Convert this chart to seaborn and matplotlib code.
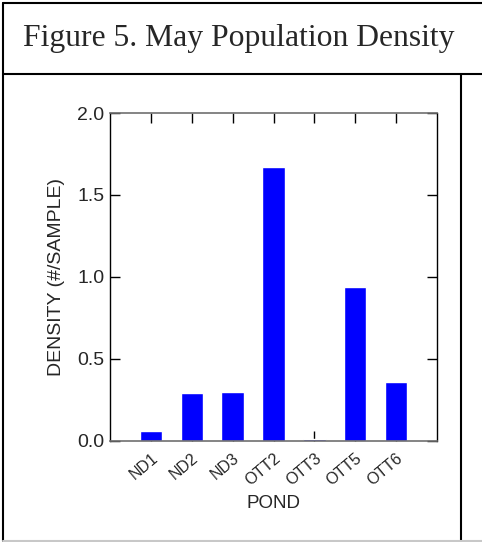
import matplotlib
matplotlib.use("Agg")
import matplotlib.pyplot as plt
from matplotlib.lines import Line2D
from matplotlib.transforms import ScaledTranslation
import seaborn as sns
import pandas as pd

ponds = ['ND1', 'ND2', 'ND3', 'OTT2', 'OTT3', 'OTT5', 'OTT6']
density = [0.06, 0.29, 0.295, 1.67, 0.01, 0.94, 0.355]
yticks = [0.0, 0.5, 1.0, 1.5, 2.0]

df = pd.DataFrame({'POND': ponds, 'DENSITY': density})

sns.set_style('white')
plt.rcParams['font.family'] = ['Liberation Sans', 'DejaVu Sans']

W, H = 482, 542
fig = plt.figure(figsize=(W / 100, H / 100), dpi=100)

def px_line(x0, y0, x1, y1, color='black', lw=1.5):
    fig.add_artist(Line2D([x0 / W, x1 / W], [1 - y0 / H, 1 - y1 / H],
                          color=color, lw=lw, transform=fig.transFigure))

# table-like frame around the figure
px_line(3, 3, 482, 3)
px_line(3, 3, 3, 541)
px_line(3, 74, 482, 74)
px_line(461, 74, 461, 541)
px_line(3, 540.5, 482, 540.5, color='#c8c8c8', lw=1.5)

fig.text(23 / W, 1 - 46 / H, 'Figure 5. May Population Density',
         fontsize=22.8, family=['Liberation Serif', 'DejaVu Serif'],
         ha='left', va='baseline')

ax = fig.add_axes([110 / W, 1 - 440.5 / H, 327 / W, 327.5 / H])
sns.barplot(data=df, x='POND', y='DENSITY', color='#0000ff', width=0.55,
            saturation=1, ax=ax)
ax.set_xlim(-1, 7)
ax.set_ylim(0, 2.0)
ax.set_yticks(yticks)
ax.set_yticklabels([f'{v:.1f}' for v in yticks], fontsize=14)
ax.set_xticks(range(len(ponds)))
ax.set_xticklabels(ponds, rotation=40, ha='right', rotation_mode='anchor',
                   fontsize=11.5)
shift = ScaledTranslation(6 / 100, 0, fig.dpi_scale_trans)
for lab in ax.get_xticklabels():
    lab.set_transform(lab.get_transform() + shift)
ax.tick_params(direction='in', length=7, width=1, color='black',
               top=True, right=True, left=True, bottom=True)
ax.tick_params(axis='y', pad=4)
ax.tick_params(axis='x', pad=7)
ax.set_ylabel('DENSITY (#/SAMPLE)', fontsize=14, labelpad=9)
ax.set_xlabel('POND', fontsize=13.5, labelpad=5)
for side in ['left', 'right']:
    ax.spines[side].set_color('black')
    ax.spines[side].set_linewidth(1)
for side in ['top', 'bottom']:
    ax.spines[side].set_color('#707070')
    ax.spines[side].set_linewidth(1.2)

fig.savefig('out.png', dpi=100)
